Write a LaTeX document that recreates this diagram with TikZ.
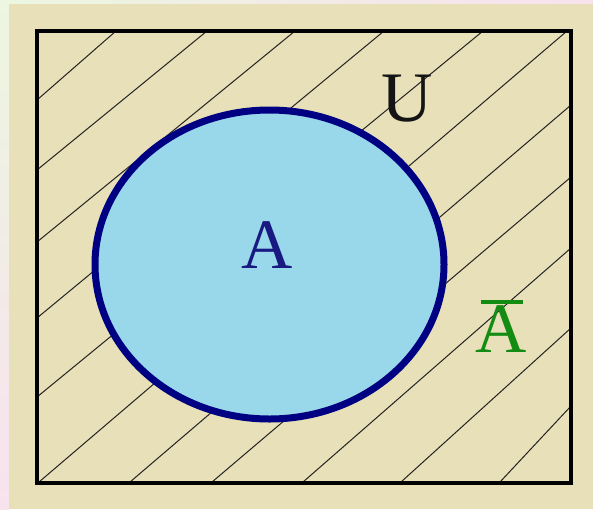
\documentclass[tikz,border=0pt]{standalone}
\usepackage{fontspec}
\setmainfont{Liberation Serif}
\definecolor{tanbg}{RGB}{232,224,184}
\definecolor{pinkbg}{RGB}{248,226,238}
\definecolor{greenbg}{RGB}{236,246,224}
\definecolor{navyline}{RGB}{0,0,130}
\definecolor{setfill}{RGB}{152,216,234}
\definecolor{labelnavy}{RGB}{25,25,130}
\definecolor{labelgreen}{RGB}{20,140,20}
\tikzset{
  hatchline/.style={line width=1pt, draw={rgb,255:red,35;green,35;blue,35}},
  biglabel/.style={inner sep=0pt, font=\fontsize{71}{71}\selectfont},
}
\begin{document}
\begin{tikzpicture}[x=1pt,y=-1pt]
\useasboundingbox (0,0) rectangle (593,509);
% background
\shade[top color=greenbg, bottom color=pinkbg] (0,0) rectangle (9,509);
\shade[left color=greenbg, right color=pinkbg] (9,0) rectangle (593,4);
\fill[tanbg] (9,4) rectangle (593,509);
% hatching
\draw[hatchline] (116,31) -- (37,100);
\draw[hatchline] (207,31) -- (37,170);
\draw[hatchline] (295,31) -- (37,242);
\draw[hatchline] (384,31) -- (37,318);
\draw[hatchline] (483,31) -- (37,397);
\draw[hatchline] (567,31) -- (39,482);
\draw[hatchline] (571,105) -- (130,482);
\draw[hatchline] (571,177) -- (212,482);
\draw[hatchline] (571,248) -- (303,482);
\draw[hatchline] (571,328) -- (401,482);
\draw[hatchline] (571,406) -- (500,482);
% universe
\draw[line width=3.5pt, black] (37,31) rectangle (571,483);
% set A
\draw[line width=7pt, navyline, fill=setfill] (269.5,264.5) ellipse [x radius=174.5pt, y radius=154.5pt];
% labels
\node[biglabel, text=labelnavy] (a) at (267,245) {A};
\node[biglabel, text={rgb,255:red,20;green,20;blue,20}] (u) at (407,99) {U};
\node[biglabel, text=labelgreen] (abar) at (501,329) {A};
\draw[labelgreen, line width=3.5pt] ([xshift=6pt,yshift=3.5pt]abar.north west) -- ([xshift=-4pt,yshift=3.5pt]abar.north east);
\end{tikzpicture}
\end{document}
